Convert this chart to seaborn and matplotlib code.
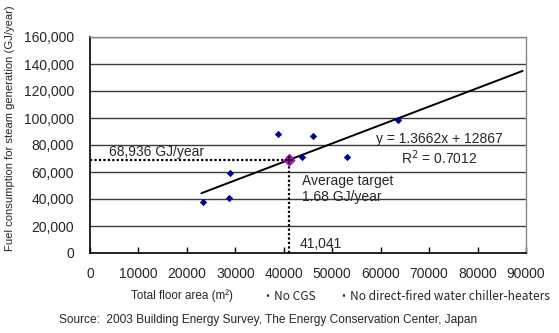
import matplotlib
matplotlib.use("Agg")
import matplotlib.pyplot as plt
import matplotlib.ticker as mticker
import seaborn as sns
import pandas as pd
import numpy as np

# ---- data ----
floor_area = [23260, 28700, 28900, 38750, 41150, 43700, 45970, 53000, 63500]
fuel_use = [37800, 40500, 59000, 88150, 71300, 70900, 86900, 71100, 98500]
target_area = [41041]
target_fuel = [68936]
trend_slope = 1.3662
trend_intercept = 12867
trend_range = [23000, 89300]
x_ticks = [0, 10000, 20000, 30000, 40000, 50000, 60000, 70000, 80000, 90000]
y_ticks = [0, 20000, 40000, 60000, 80000, 100000, 120000, 140000, 160000]

sns.set_theme(style="white")
plt.rcParams['font.family'] = ['Liberation Sans', 'DejaVu Sans']

fig = plt.figure(figsize=(5.59, 3.33), dpi=100)
ax = fig.add_axes([90/559, 80/333, 436/559, 216/333])

df = pd.DataFrame({"area": floor_area, "fuel": fuel_use})
sns.scatterplot(data=df, x="area", y="fuel", marker="D", s=14, color="#000099",
                edgecolor="#000099", linewidth=0, ax=ax, zorder=4)

tx = np.array(trend_range, dtype=float)
sns.lineplot(x=tx, y=trend_slope * tx + trend_intercept, color="black", lw=1.4, ax=ax, zorder=3)

# target dotted guides
ax.plot([0, target_area[0]], [target_fuel[0], target_fuel[0]], color="black", lw=1.6,
        linestyle=(0, (1, 1)), zorder=2)
ax.plot([target_area[0], target_area[0]], [0, target_fuel[0]], color="black", lw=1.6,
        linestyle=(0, (1, 1)), zorder=2)
sns.scatterplot(x=target_area, y=target_fuel, marker="D", s=40, color="#cc00cc",
                edgecolor="#cc00cc", linewidth=0, ax=ax, zorder=5)
ax.scatter(target_area, target_fuel, marker="+", s=40, color="black", linewidths=1.2, zorder=6)

ax.set_xlim(0, 90000)
ax.set_ylim(0, 160000)
ax.set_xticks(x_ticks)
ax.set_yticks(y_ticks)
ax.yaxis.set_major_formatter(mticker.FuncFormatter(lambda v, p: f"{int(v):,}"))
ax.xaxis.set_major_formatter(mticker.FuncFormatter(lambda v, p: f"{int(v)}"))
ax.grid(axis="y", color="#3a3a3a", lw=1.0)
ax.set_axisbelow(True)
for s in ["top", "right"]:
    ax.spines[s].set_color("#888888")
    ax.spines[s].set_linewidth(1.0)
for s in ["left", "bottom"]:
    ax.spines[s].set_color("black")
    ax.spines[s].set_linewidth(1.2)
ax.tick_params(axis="x", direction="in", length=4, width=1, color="black",
               labelsize=10, pad=10, bottom=True)
ax.tick_params(axis="y", length=0, labelsize=10, pad=11.5)
ax.set_xlabel("")
ax.set_ylabel("")

ax.text(4000, target_fuel[0] + 1000, "68,936 GJ/year", fontsize=10, ha="left", va="bottom")
ax.text(target_area[0] + 2300, 1500, "41,041", fontsize=10, ha="left", va="bottom")
ax.text(target_area[0] + 2800, 53000, "Average target", fontsize=10, ha="left", va="center")
ax.text(target_area[0] + 2800, 41500, "1.68 GJ/year", fontsize=10, ha="left", va="center")
ax.text(72050, 84450, "y = 1.3662x + 12867", fontsize=10, ha="center", va="center")
ax.text(72050, 70600, "R$^2$ = 0.7012", fontsize=10, ha="center", va="center")

fig.text(10/559, 1 - 128/333, "Fuel consumption for steam generation (GJ/year)", rotation=90,
         fontsize=8.1, ha="center", va="center")
fig.text(182/559, 1 - 296/333, "Total floor area (m\u00b2)", fontsize=8.4, ha="center", va="center")
fig.text(262/559, 1 - 296/333, "\u30fbNo CGS", fontsize=8.6, ha="left", va="center",
         family=["Noto Sans CJK JP", "DejaVu Sans"])
fig.text(338/559, 1 - 296/333, "\u30fbNo direct-fired water chiller-heaters", fontsize=8.6,
         ha="left", va="center", family=["Noto Sans CJK JP", "DejaVu Sans"])
fig.text(268/559, 1 - 320/333, "Source:  2003 Building Energy Survey, The Energy Conservation Center, Japan",
         fontsize=8.6, ha="center", va="center")

fig.savefig("out.png", dpi=100)
